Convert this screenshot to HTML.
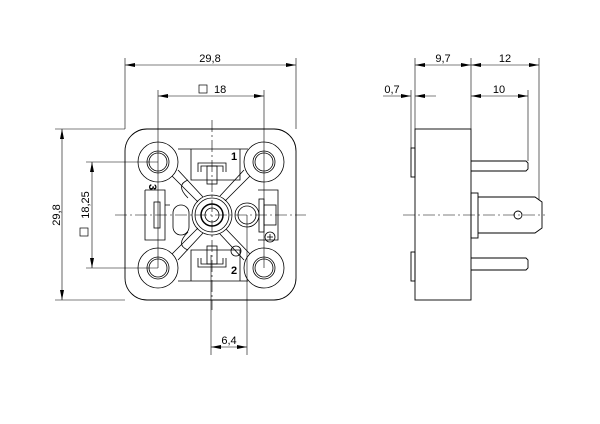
<!DOCTYPE html>
<html><head><style>body{margin:0;background:#fff}svg{display:block}</style></head><body>
<svg width="600" height="424" viewBox="0 0 600 424" xmlns="http://www.w3.org/2000/svg" font-family="Liberation Sans, sans-serif" font-size="11">
<defs>
<marker id="a" viewBox="0 0 10 4" refX="10" refY="2" markerWidth="10" markerHeight="4" orient="auto-start-reverse" markerUnits="userSpaceOnUse"><path d="M0,0L10,2L0,4z" fill="#000"/></marker>
</defs>
<g stroke="#000" fill="none" stroke-width="0.6">
<line x1="125" y1="58" x2="125" y2="129"/><line x1="296" y1="58" x2="296" y2="129"/>
<line x1="158" y1="90" x2="158" y2="268"/><line x1="264" y1="90" x2="264" y2="268"/>
<line x1="55" y1="129" x2="125" y2="129"/><line x1="55" y1="300" x2="125" y2="300"/>
<line x1="86" y1="162" x2="158" y2="162"/><line x1="86" y1="268" x2="158" y2="268"/>
<line x1="211" y1="255" x2="211" y2="355"/><line x1="247" y1="215" x2="247" y2="355"/>
<line x1="125" y1="65" x2="296" y2="65" marker-start="url(#a)" marker-end="url(#a)"/>
<line x1="158" y1="96" x2="264" y2="96" marker-start="url(#a)" marker-end="url(#a)"/>
<line x1="62" y1="129" x2="62" y2="300" marker-start="url(#a)" marker-end="url(#a)"/>
<line x1="92" y1="162" x2="92" y2="268" marker-start="url(#a)" marker-end="url(#a)"/>
<line x1="211" y1="347" x2="247" y2="347" marker-start="url(#a)" marker-end="url(#a)"/>
<line x1="115" y1="215" x2="306" y2="215" stroke-dasharray="12,3,2,3"/>
<line x1="212" y1="120" x2="212" y2="310" stroke-dasharray="12,3,2,3"/>
<rect x="125" y="129" width="171" height="171" rx="22" stroke-width="0.9"/>
<g stroke-width="0.8">
<circle cx="158" cy="162" r="20"/><circle cx="158" cy="162" r="11"/><circle cx="158" cy="162" r="9"/>
<circle cx="264" cy="162" r="20"/><circle cx="264" cy="162" r="11"/><circle cx="264" cy="162" r="9"/>
<circle cx="158" cy="268" r="20"/><circle cx="158" cy="268" r="11"/><circle cx="158" cy="268" r="9"/>
<circle cx="264" cy="268" r="20"/><circle cx="264" cy="268" r="11"/><circle cx="264" cy="268" r="9"/>
<circle cx="212" cy="215" r="20"/><circle cx="212" cy="215" r="17"/><circle cx="212" cy="215" r="11" stroke-width="1.5"/><circle cx="212" cy="215" r="7"/>
<circle cx="247" cy="215" r="12"/><circle cx="247" cy="215" r="9"/>
<line x1="172" y1="176" x2="198" y2="202"/><line x1="178" y1="170" x2="203" y2="197"/>
<line x1="250" y1="176" x2="225" y2="201"/><line x1="244" y1="170" x2="220" y2="196"/>
<line x1="172" y1="254" x2="198" y2="228"/><line x1="178" y1="260" x2="203" y2="233"/>
<line x1="250" y1="254" x2="226" y2="229"/><line x1="244" y1="260" x2="220" y2="234"/>
<path d="M178,149 L248,149 M191,149 L191,180 L240,180 L240,149"/>
<path d="M198,172 L198,163 L226,163 L226,172 M201,172 L201,166 L223,166 L223,172"/>
<rect x="207" y="166" width="10" height="18"/>
<path d="M188,180 Q175,185 188,198"/>
<path d="M178,281 L248,281 M191,281 L191,250 L240,250 L240,281"/>
<path d="M198,258 L198,267 L226,267 L226,258 M201,258 L201,264 L223,264 L223,258"/>
<rect x="207" y="246" width="10" height="18"/>
<path d="M188,250 Q175,245 188,232"/>
<path d="M145,190 L145,240 L165,240 L165,190 L145,190 M165,205 L170,205"/>
<rect x="154" y="202" width="6" height="26"/>
<path d="M173,213 a8,8 0 0 1 16,0 v14 a8,8 0 0 1 -16,0 z"/>
<rect x="259" y="199" width="5" height="33"/><rect x="264" y="205" width="12" height="20"/>
<path d="M258,190 L278,190 L278,240 L258,240"/>
<circle cx="270" cy="237" r="5"/><line x1="267" y1="237" x2="273" y2="237"/><line x1="270" y1="234" x2="270" y2="240"/>
<circle cx="236" cy="251" r="5"/>
</g>
<line x1="411" y1="90" x2="411" y2="148"/><line x1="415" y1="58" x2="415" y2="129"/>
<line x1="471" y1="58" x2="471" y2="129"/><line x1="539" y1="58" x2="539" y2="200"/>
<line x1="528" y1="90" x2="528" y2="161"/>
<line x1="415" y1="65" x2="471" y2="65" marker-start="url(#a)" marker-end="url(#a)"/>
<line x1="471" y1="65" x2="539" y2="65" marker-start="url(#a)" marker-end="url(#a)"/>
<line x1="383" y1="96" x2="411" y2="96" marker-end="url(#a)"/>
<line x1="436" y1="96" x2="415" y2="96" marker-end="url(#a)"/>
<line x1="471" y1="96" x2="528" y2="96" marker-start="url(#a)" marker-end="url(#a)"/>
<line x1="403" y1="215" x2="545" y2="215" stroke-dasharray="12,3,2,3"/>
<g stroke-width="0.9">
<rect x="415" y="129" width="56" height="171"/>
<rect x="411" y="148" width="4" height="29"/><rect x="411" y="252" width="4" height="29"/>
<path d="M471,161 L526,161 L528,163 L528,169 L526,171 L471,171"/>
<path d="M471,258 L526,258 L528,260 L528,268 L526,270 L471,270"/>
<rect x="471" y="193" width="7" height="45"/>
<path d="M478,197 L535,197 L542,202 L542,228 L535,233 L478,233"/>
<circle cx="518" cy="215" r="4"/>
</g>
</g>
<g fill="#000">
<text x="210" y="62" text-anchor="middle">29,8</text>
<rect x="199" y="85" width="8" height="8" fill="none" stroke="#000" stroke-width="0.7"/>
<text x="214" y="93">18</text>
<text transform="translate(60,215) rotate(-90)" text-anchor="middle">29,8</text>
<text transform="translate(89,205) rotate(-90)" text-anchor="middle">18,25</text>
<rect x="80" y="228" width="8" height="8" fill="none" stroke="#000" stroke-width="0.7"/>
<text x="229" y="344" text-anchor="middle">6,4</text>
<text x="443" y="62" text-anchor="middle">9,7</text>
<text x="505" y="62" text-anchor="middle">12</text>
<text x="392" y="93" text-anchor="middle">0,7</text>
<text x="499" y="93" text-anchor="middle">10</text>
<text x="231" y="160" font-weight="bold">1</text>
<text x="231" y="274" font-weight="bold">2</text>
<text transform="translate(149,187) rotate(90)" font-weight="bold" text-anchor="middle">3</text>
</g>
</svg>
</body></html>
